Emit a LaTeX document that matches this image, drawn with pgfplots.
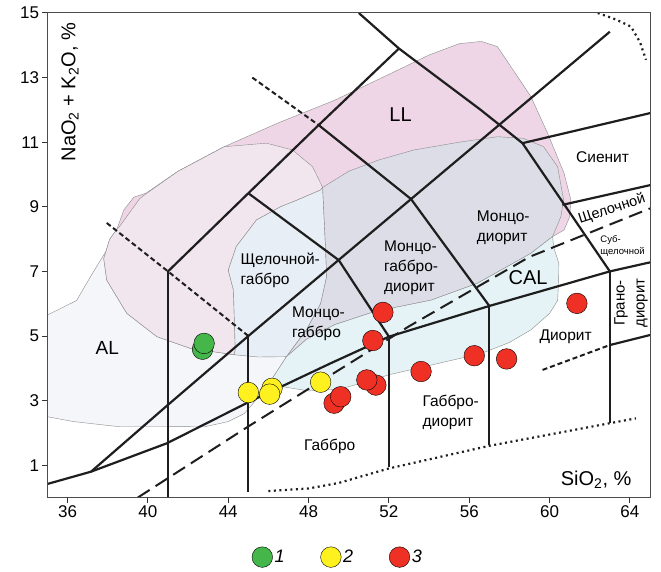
\documentclass[border=0pt]{standalone}
\usepackage{pgfplots}
\pgfplotsset{compat=1.18}
\usepackage{fontspec}
\setmainfont{Liberation Sans}
\newcommand\fs[2]{\fontsize{#1}{#2}\selectfont}
\definecolor{alc}{HTML}{F4F6F9}
\definecolor{llc}{HTML}{EED6E7}
\definecolor{lpc}{HTML}{F2E6EE}
\definecolor{lbc}{HTML}{E8EEF6}
\definecolor{lvc}{HTML}{DCDDE7}
\definecolor{cyc}{HTML}{E5F3F6}
\definecolor{gr1}{HTML}{45B649}
\definecolor{yl2}{HTML}{FFF01F}
\definecolor{rd3}{HTML}{EE3124}
\definecolor{ln}{HTML}{1E1E1E}
\begin{document}
\begin{tikzpicture}
\begin{axis}[
  scale only axis, width=602.5pt, height=484.5pt,
  xmin=35, xmax=65, ymin=0, ymax=15,
  xtick={36,40,...,64}, ytick={1,3,...,15},
  tick align=outside, tick pos=left, major tick length=5pt,
  axis line style={draw=black!70, line width=1pt},
  tick style={black!80, line width=1pt},
  ticklabel style={font=\fs{17}{17}},
  /pgf/number format/assume math mode=true,
  axis on top,
  legend style={at={(0.482,-0.123)}, anchor=center, draw=none, fill=none,
     legend columns=3, font=\fs{18}{18}\itshape,
     /tikz/every even column/.append style={column sep=34pt}},
  legend image code/.code={\draw[#1] plot coordinates {(10.5pt,0pt)};},
  fld/.style={draw=black!45, line width=0.4pt, forget plot},
  bl/.style={ln, line width=2.2pt, forget plot},
  pt/.style={only marks, mark=*, mark size=10.3pt, mark options={draw=black!85, line width=0.8pt}},
]
% ---------- fields ----------
\addplot[fld, fill=alc] coordinates {(35,5.65)(36.45,6.1)(37.2,6.9)(37.95,7.66)(38.6,8.4)(39.6,9.26)(39.9,9.4)(41.5,10.1)(43.8,10.86)(45.9,10.97)(47.2,10.76)(48.2,10.24)(48.7,9.6)(48.85,7.66)(48.9,6.84)(48.6,6.0)(47.9,5.2)(46.9,4.36)(46.25,3.74)(46.1,3.55)(45.5,3.1)(44.8,2.6)(44,2.35)(42.9,2.2)(40.6,2.19)(38.6,2.19)(36.3,2.35)(35,2.5)} -- cycle;
\addplot[fld, fill=llc] coordinates {(44.3,4.42)(42.1,4.62)(40.45,4.98)(38.95,5.7)(37.95,6.73)(37.8,7.4)(38.1,8.0)(38.45,8.3)(38.8,8.9)(39.3,9.3)(39.9,9.42)(41.5,10.1)(43.8,10.86)(46.5,11.6)(49.3,12.3)(52,13.1)(54,13.7)(55.5,14.05)(56.6,14.12)(57.4,13.96)(58.07,13.34)(59.07,12.41)(59.9,11.28)(60.72,10.04)(61.06,9.21)(61.0,8.69)(60.72,8.28)(60.15,8.08)(56,6.5)(48.8,5.5)(46,4.4)} -- cycle;
\addplot[fld, fill=lpc] coordinates {(44.3,4.42)(42.1,4.62)(40.45,4.98)(38.95,5.7)(37.95,6.73)(37.8,7.4)(38.1,8.0)(38.45,8.3)(38.6,8.4)(39.6,9.26)(39.9,9.4)(41.5,10.1)(43.8,10.86)(45.9,10.97)(47.2,10.76)(48.2,10.24)(48.7,9.6)(48.6,9.52)(47.4,9.2)(46.6,9.0)(45.4,8.59)(44.4,7.77)(44.0,7.04)(44.26,6.42)(44.35,4.57)} -- cycle;
\addplot[fld, fill=lbc] coordinates {(44.35,4.57)(44.26,6.42)(44.0,7.04)(44.4,7.77)(45.4,8.59)(46.6,9.0)(47.4,9.2)(48.6,9.52)(48.7,9.6)(48.85,7.66)(48.9,6.84)(48.6,6.0)(47.9,5.2)(46.9,4.36)(45.5,4.35)(44.3,4.42)} -- cycle;
\addplot[fld, fill=lvc] coordinates {(48.7,9.6)(50,10.1)(51.5,10.45)(53.25,10.76)(55.5,11.0)(57.4,11.17)(58.7,11.12)(59.7,10.86)(60.4,10.24)(60.7,9.21)(60.56,8.69)(60.15,8.08)(59.07,7.56)(56.4,6.63)(54.1,6.11)(51.25,5.75)(49.3,5.35)(47.9,4.9)(46.9,4.36)(47.9,5.2)(48.6,6.0)(48.9,6.84)(48.85,7.66)} -- cycle;
\addplot[fld, fill=cyc] coordinates {(46.1,3.55)(46.25,3.74)(46.9,4.36)(47.9,4.9)(49.3,5.35)(51.25,5.75)(54.1,6.11)(56.4,6.63)(59.07,7.56)(60.15,8.08)(60.2,7.76)(60.46,7.25)(60.45,6.7)(60.4,6.1)(60,5.7)(59.07,5.19)(58,4.8)(56.6,4.46)(54.1,4.1)(52,3.8)(51,3.6)(49.5,3.35)(48,3.3)(46.5,3.45)} -- cycle;
% ---------- classification lines ----------
\addplot[bl] coordinates {(35,0.42)(37.17,0.8)(40.95,1.68)(45,2.95)(49.08,4.15)(52,4.98)(57,5.93)(63,7.0)(65,7.28)};
\addplot[bl] coordinates {(37.17,0.8)(41,2.87)(45,5.0)(63,14.42)};
\addplot[bl] coordinates {(41,0)(41,7)};
\addplot[bl] coordinates {(41,7)(45,9.42)(48.5,11.53)(52.5,13.9)};
\addplot[bl] coordinates {(50.5,15)(52.5,13.9)(56.57,12.0)(58.65,10.97)(63,7.0)};
\addplot[bl] coordinates {(58.65,10.97)(65,11.9)};
\addplot[bl] coordinates {(60.64,9.06)(65,9.67)};
\addplot[bl] coordinates {(45,9.42)(49.5,7.35)(52,4.98)};
\addplot[bl] coordinates {(48.5,11.53)(53.1,9.24)(57,5.93)};
\addplot[bl] coordinates {(45,0.17)(45,5.0)};
\addplot[bl] coordinates {(52,0.95)(52,4.98)};
\addplot[bl] coordinates {(57,1.63)(57,5.93)};
\addplot[bl] coordinates {(63,2.3)(63,7.0)};
\addplot[bl] coordinates {(63,4.72)(65,5.03)};
\addplot[bl, line width=2pt, dash pattern=on 14pt off 7pt] coordinates {(39.5,0)(45,2.2)(53,5.3)(59,7.45)(65,8.95)};
\addplot[bl, line width=2pt, dash pattern=on 5pt off 3pt] coordinates {(37.95,8.5)(41,7)(45,5.0)};
\addplot[bl, line width=2pt, dash pattern=on 5pt off 3pt] coordinates {(45.2,13.0)(48.5,11.53)};
\addplot[bl, line width=2pt, dash pattern=on 5pt off 3pt] coordinates {(59.65,3.95)(63,4.72)};
\addplot[bl, line width=2.2pt, dash pattern=on 2pt off 3.5pt] coordinates {(46,0.2)(48,0.28)(49.5,0.45)(52,0.9)(57,1.6)(63,2.3)(64.3,2.45)};
\addplot[bl, line width=2.2pt, dash pattern=on 2pt off 3.5pt] coordinates {(62.4,15)(63.3,14.8)(64.05,14.58)(64.5,14.1)(64.8,13.55)};
% ---------- data ----------
\addplot[pt, mark options={fill=gr1}] coordinates {(42.72,4.59)(42.8,4.77)};
\addlegendentry{1}
\addplot[pt, mark options={fill=yl2}] coordinates {(45.0,3.25)(46.18,3.38)(46.06,3.2)(48.6,3.57)};
\addlegendentry{2}
\addplot[pt, mark options={fill=rd3}] coordinates {(49.27,2.92)(49.6,3.12)(51.35,3.48)(50.9,3.64)(51.2,4.86)(51.7,5.73)(53.6,3.9)(56.25,4.39)(57.86,4.29)(61.36,6.01)};
\addlegendentry{3}
% ---------- labels ----------
\node[font=\fs{19}{20}] at (37.98,4.62) {AL};
\node[font=\fs{20}{20}] at (52.58,11.86) {LL};
\node[font=\fs{20}{20}] at (58.93,6.8) {CAL};
\node[font=\fs{15.5}{20}, anchor=west, align=left] at (44.44,7.02) {Щелочной-\\габбро};
\node[font=\fs{15.5}{20}, anchor=west, align=left] at (47.0,5.37) {Монцо-\\габбро};
\node[font=\fs{15.5}{20}, anchor=west, align=left] at (51.58,7.1) {Монцо-\\габбро-\\диорит};
\node[font=\fs{15.5}{20}, anchor=west, align=left] at (56.2,8.35) {Монцо-\\диорит};
\node[font=\fs{15.5}{20}] at (62.64,10.53) {Сиенит};
\node[font=\fs{14.5}{16}, rotate=18, inner sep=0.5pt] at (63.1,8.92) {Щелочной};
\node[font=\fs{9.5}{12}, anchor=west, align=left, inner sep=0.5pt] at (62.5,7.8) {Суб-\\щелочной};
\node[font=\fs{15}{20}, rotate=90, align=center] at (64.05,6.02) {Грано-\\диорит};
\node[font=\fs{15.5}{20}] at (60.8,4.98) {Диорит};
\node[font=\fs{15.5}{20}, anchor=west, align=left] at (53.5,2.63) {Габбро-\\диорит};
\node[font=\fs{15.5}{20}, anchor=west] at (47.6,1.57) {Габбро};
\node[font=\fs{20}{20}, anchor=east] at (64.25,0.54) {SiO\textsubscript{2}, \%};
\node[font=\fs{20}{20}, rotate=90] at (36.12,12.55) {NaO\textsubscript{2} + K\textsubscript{2}O, \%};
\end{axis}
\pgfresetboundingbox
\path[use as bounding box] ([xshift=-47.5pt,yshift=-73.5pt]current axis.south west) rectangle ([xshift=11pt,yshift=13pt]current axis.north east);
\end{tikzpicture}
\end{document}
